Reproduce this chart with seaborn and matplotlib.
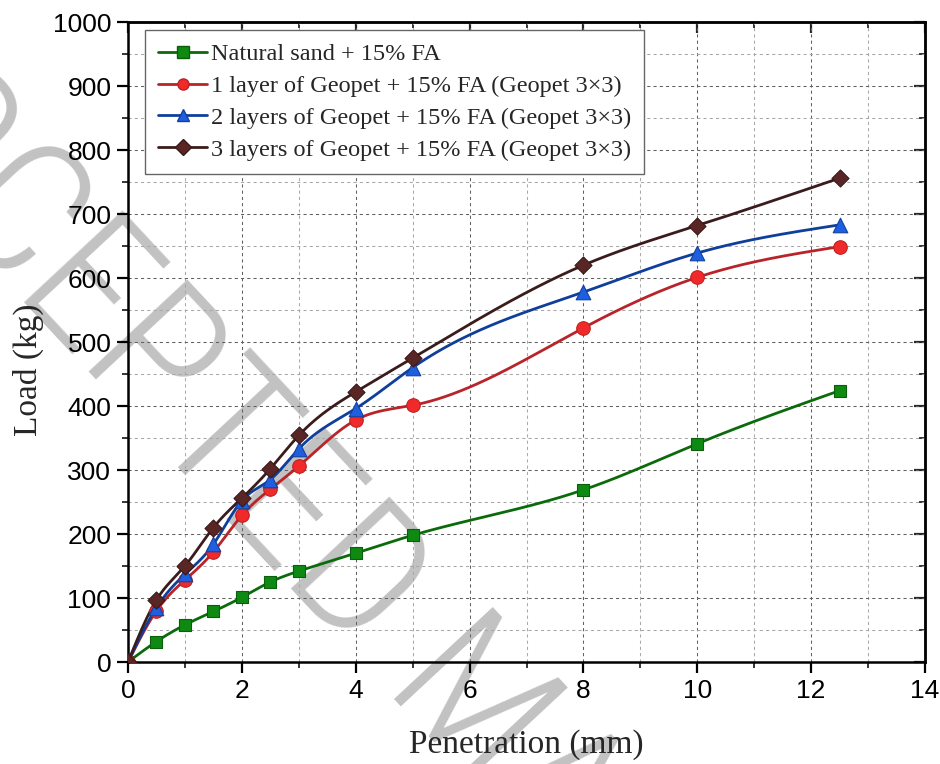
import matplotlib
matplotlib.use("Agg")
import numpy as np
import pandas as pd
import seaborn as sns
import matplotlib.pyplot as plt
from matplotlib.ticker import MultipleLocator
from matplotlib.lines import Line2D

# ---------------- data ----------------
penetration = [0, 0.5, 1, 1.5, 2, 2.5, 3, 4, 5, 8, 10, 12.5]
natural_sand = [0, 32, 58, 79, 101, 125, 142, 170, 198, 269, 341, 424]
one_layer = [0, 80, 128, 172, 229, 270, 306, 378, 401, 522, 601, 649]
two_layers = [0, 85, 137, 184, 252, 285, 333, 396, 460, 578, 639, 683]
three_layers = [0, 97, 150, 210, 256, 302, 354, 422, 475, 620, 682, 756]

series_names = [
    "Natural sand + 15% FA",
    "1 layer of Geopet + 15% FA (Geopet 3×3)",
    "2 layers of Geopet + 15% FA (Geopet 3×3)",
    "3 layers of Geopet + 15% FA (Geopet 3×3)",
]
x_ticks = [0, 2, 4, 6, 8, 10, 12, 14]
y_ticks = [0, 100, 200, 300, 400, 500, 600, 700, 800, 900, 1000]
watermark = "ACCEPTED MANUSCRIPT"

# styles
line_colors = ["#0b6b0b", "#b8242a", "#0f3f9a", "#3b1c1c"]
marker_faces = ["#0e8a12", "#f02a2a", "#1e5fe0", "#5a2525"]
marker_edges = ["#0b5e0b", "#c02020", "#1240a0", "#3a1818"]
markers = ["s", "o", "^", "D"]
marker_sizes = [70, 95, 110, 75]

W, H = 940, 764


def natural_spline(x, y, n=500):
    x = np.asarray(x, float)
    y = np.asarray(y, float)
    m = len(x)
    h = np.diff(x)
    A = np.zeros((m, m))
    b = np.zeros(m)
    A[0, 0] = 1
    A[-1, -1] = 1
    for i in range(1, m - 1):
        A[i, i - 1] = h[i - 1]
        A[i, i] = 2 * (h[i - 1] + h[i])
        A[i, i + 1] = h[i]
        b[i] = 6 * ((y[i + 1] - y[i]) / h[i] - (y[i] - y[i - 1]) / h[i - 1])
    M = np.linalg.solve(A, b)
    xs = np.linspace(x[0], x[-1], n)
    idx = np.clip(np.searchsorted(x, xs) - 1, 0, m - 2)
    x0, x1 = x[idx], x[idx + 1]
    hh = x1 - x0
    t0 = x1 - xs
    t1 = xs - x0
    ys = (M[idx] * t0 ** 3 / (6 * hh) + M[idx + 1] * t1 ** 3 / (6 * hh)
          + (y[idx] / hh - M[idx] * hh / 6) * t0
          + (y[idx + 1] / hh - M[idx + 1] * hh / 6) * t1)
    return xs, ys


sns.set_theme(style="ticks")
plt.rcParams["font.family"] = ["Liberation Sans", "DejaVu Sans"]

fig = plt.figure(figsize=(W / 100, H / 100), dpi=100)
fig.patch.set_facecolor("white")

# ---------------- watermark (behind everything) ----------------
wm_font = dict(family=["Roboto Condensed", "Liberation Sans"], weight="light", size=137)
renderer = fig.canvas.get_renderer()
probe = fig.text(0, 0, watermark[:7], **wm_font)
pre_w = probe.get_window_extent(renderer).width
probe.remove()
theta = np.deg2rad(47)
u = np.array([np.cos(theta), np.sin(theta)])          # reading direction (y down)
target = np.array([286.0, 584.0])                      # bottom of the D's stem
start = target - (pre_w + 10) * u
fig.text(start[0] / W, 1 - start[1] / H, watermark, color="#c2c2c2",
         rotation=-47, rotation_mode="anchor", ha="left", va="baseline",
         zorder=-10, **wm_font)

ax = fig.add_axes([128 / W, 1 - 662 / H, 797 / W, 640 / H])
ax.patch.set_alpha(0)

all_series = [natural_sand, one_layer, two_layers, three_layers]
for vals, name, lc, mf, me, mk, ms in zip(all_series, series_names, line_colors,
                                          marker_faces, marker_edges, markers, marker_sizes):
    xs, ys = natural_spline(penetration, vals)
    sns.lineplot(x=xs, y=ys, ax=ax, color=lc, linewidth=2.0, zorder=3,
                 sort=False, estimator=None)
    df = pd.DataFrame({"pen": penetration, "load": vals})
    sns.scatterplot(data=df, x="pen", y="load", ax=ax, marker=mk, s=ms,
                    color=mf, edgecolor=me, linewidth=0.8, zorder=4)

ax.set_xlim(0, 14)
ax.set_ylim(0, 1000)
ax.set_xticks(x_ticks)
ax.set_yticks(y_ticks)
ax.xaxis.set_minor_locator(MultipleLocator(1))
ax.yaxis.set_minor_locator(MultipleLocator(50))

ax.grid(True, which="major", color="#606060", linestyle=(0, (3, 3)), linewidth=0.75)
ax.grid(True, which="minor", color="#a8a8a8", linestyle=(0, (3, 3)), linewidth=0.75)
ax.set_axisbelow(True)

for s in ax.spines.values():
    s.set_linewidth(1.8)
    s.set_color("black")

ax.tick_params(which="major", direction="out", length=8, width=1.6,
               labelsize=19, colors="black", pad=4)
ax.tick_params(which="minor", direction="out", length=4, width=1.3)

# mirrored inward ticks on top and right
sec_x = ax.secondary_xaxis("top")
sec_x.set_xticks(x_ticks)
sec_x.xaxis.set_minor_locator(MultipleLocator(1))
sec_x.tick_params(which="major", direction="in", length=8, width=1.6, labeltop=False)
sec_x.tick_params(which="minor", direction="in", length=4, width=1.3)
sec_x.spines["top"].set_linewidth(1.8)
sec_y = ax.secondary_yaxis("right")
sec_y.set_yticks(y_ticks)
sec_y.yaxis.set_minor_locator(MultipleLocator(50))
sec_y.tick_params(which="major", direction="in", length=8, width=1.6, labelright=False)
sec_y.tick_params(which="minor", direction="in", length=4, width=1.3)
sec_y.spines["right"].set_linewidth(1.8)

ax.set_xlabel("Penetration (mm)", family="Liberation Serif", fontsize=24)
ax.set_ylabel("Load (kg)", family="Liberation Serif", fontsize=24)
ax.xaxis.set_label_coords(0.5, (662 - 729) / 640)
ax.yaxis.set_label_coords((44 - 128) / 797, (662 - 370) / 640)

handles = []
for name, lc, mf, me, mk in zip(series_names, line_colors, marker_faces, marker_edges, markers):
    handles.append(Line2D([0], [0], color=lc, linewidth=2.0, marker=mk,
                          markerfacecolor=mf, markeredgecolor=me, markersize=8))
leg = ax.legend(handles, series_names, loc="upper left",
                bbox_to_anchor=(17 / 797, 1 - 8 / 640), borderaxespad=0,
                prop={"family": "Liberation Serif", "size": 17.5},
                handlelength=2.0, handletextpad=0.15, labelspacing=0.4,
                borderpad=0.55, frameon=True, fancybox=False, framealpha=1,
                edgecolor="#666666")
leg.get_frame().set_linewidth(1.0)
leg.set_zorder(10)

fig.savefig("out.png", dpi=100)
